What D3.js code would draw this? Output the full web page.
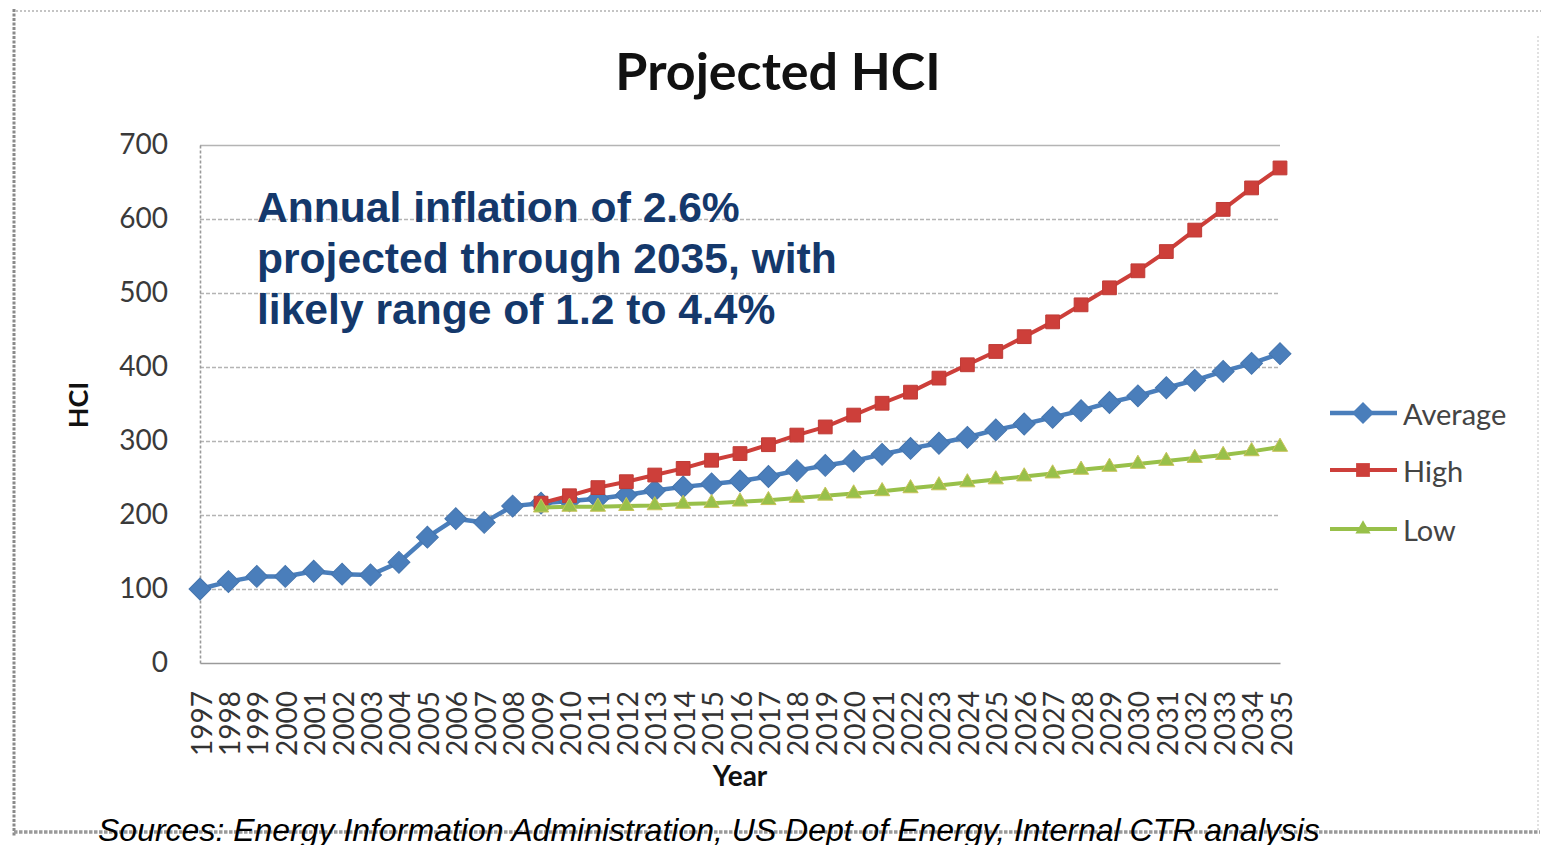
<!doctype html>
<html>
<head>
<meta charset="utf-8">
<script src="https://cdn.jsdelivr.net/npm/d3@7/dist/d3.min.js"></script>
<style>
  html, body { margin: 0; padding: 0; background: #fff; }
  svg { display: block; }
  .calib { font-family: Lato, 'Open Sans', sans-serif; }
</style>
</head>
<body>
<svg id="chart" width="1541" height="845"></svg>
<script>
// data
var years = ["1997","1998","1999","2000","2001","2002","2003","2004","2005","2006",
  "2007","2008","2009","2010","2011","2012","2013","2014","2015","2016","2017",
  "2018","2019","2020","2021","2022","2023","2024","2025","2026","2027","2028",
  "2029","2030","2031","2032","2033","2034","2035"];

var averageValues = [100,110,117,117,124,120,119,136,170,195,190,212,216,
  219,222,227,233,238,242,246,252,260,267,273,282,290,297,305,315,323,332,
  341,352,361,372,382,394,405,418];

// projections start in 2009
var projYears = years.slice(12);
var highValues = [216,226,237,245,254,263,274,283,295,308,319,335,351,366,
  385,403,421,441,461,484,507,530,556,585,613,642,669];
var lowValues = [210,211,211,212,213,215,216,218,220,223,226,229,232,236,
  240,244,248,252,256,261,265,269,273,277,281,286,292];

var yTicks = [0,100,200,300,400,500,600,700];
var seriesNames = ["Average","High","Low"];
var noteLines = ["Annual inflation of 2.6%", "projected through 2035, with", "likely range of 1.2 to 4.4%"];

var svg = d3.select("#chart");

// helpers
var plotLeft = 200, plotRight = 1280, plotTop = 145, plotBottom = 663;
var x = d3.scalePoint().domain(years).range([plotLeft, plotRight]);
var y = d3.scaleLinear().domain([0, 700]).range([plotBottom, plotTop]);

var colors = {Average: "#4a7ebb", High: "#cd3f3a", Low: "#98c04a"};

// outer frame
var frame = svg.append("g");
frame.append("line").attr("x1", 16).attr("y1", 11).attr("x2", 1541).attr("y2", 11)
  .style("stroke", "#c4c4c4").style("stroke-width", 2).style("stroke-dasharray", "2,2");
frame.append("line").attr("x1", 1538).attr("y1", 36).attr("x2", 1538).attr("y2", 832)
  .style("stroke", "#d8d8d8").style("stroke-width", 1.5).style("stroke-dasharray", "2,2");
frame.append("line").attr("x1", 14).attr("y1", 9).attr("x2", 14).attr("y2", 836)
  .style("stroke", "#8a8a8a").style("stroke-width", 3).style("stroke-dasharray", "3,1.5");
frame.append("line").attr("x1", 14).attr("y1", 832).attr("x2", 1540).attr("y2", 832)
  .style("stroke", "#9a9a9a").style("stroke-width", 3.5).style("stroke-dasharray", "3.5,1.5");

// title
svg.append("text").classed("calib", true)
  .attr("x", 778).attr("y", 90)
  .attr("text-anchor", "middle")
  .style("font-size", "52px").style("font-weight", "bold").style("fill", "#111")
  .text("Projected HCI");

// gridlines
var grid = svg.append("g").attr("transform", "translate(" + [plotLeft, 0] + ")")
  .call(d3.axisLeft(y).tickValues(yTicks.slice(1)).tickSize(-(plotRight - plotLeft)).tickFormat(""));
grid.select(".domain").remove();
grid.selectAll(".tick line")
  .style("stroke", "#b4b4b4").style("stroke-width", 1.6)
  .style("stroke-dasharray", function(d) { return d === 700 ? null : "4,2"; });

// y axis
var yAxis = svg.append("g").attr("transform", "translate(" + [plotLeft, 0] + ")")
  .call(d3.axisLeft(y).tickValues(yTicks).tickSize(0).tickPadding(32));
yAxis.select(".domain").style("stroke", "#9a9a9a").style("stroke-width", 1.6).style("stroke-dasharray", "3,2");
yAxis.selectAll(".tick text").classed("calib", true)
  .style("font-size", "28px").style("fill", "#3a3a3a");

// x axis
var xAxis = svg.append("g").attr("transform", "translate(" + [0, plotBottom] + ")")
  .call(d3.axisBottom(x).tickSize(0).tickPadding(0));
xAxis.select(".domain").style("stroke", "#9a9a9a").style("stroke-width", 1.6);
xAxis.selectAll(".tick text").classed("calib", true)
  .style("font-size", "28px").style("fill", "#333")
  .attr("text-anchor", "end")
  .attr("dy", null)
  .attr("dominant-baseline", "central")
  .attr("transform", "translate(0,28) rotate(-90)");

// axis titles
svg.append("text").classed("calib", true)
  .attr("transform", "translate(" + [88, 405] + ") rotate(-90)")
  .attr("text-anchor", "middle")
  .style("font-size", "27px").style("font-weight", "bold").style("fill", "#111")
  .text("HCI");
svg.append("text").classed("calib", true)
  .attr("x", 740).attr("y", 786)
  .attr("text-anchor", "middle")
  .style("font-size", "28px").style("font-weight", "bold").style("fill", "#111")
  .text("Year");

// series
var avgData = years.map(function(d, i) { return {year: d, v: averageValues[i]}; });
var highData = projYears.map(function(d, i) { return {year: d, v: highValues[i]}; });
var lowData = projYears.map(function(d, i) { return {year: d, v: lowValues[i]}; });

var line = d3.line().x(function(d) { return x(d.year); }).y(function(d) { return y(d.v); });

var symbols = {
  Average: {type: d3.symbolSquare, size: 240, rot: 45},
  High: {type: d3.symbolSquare, size: 190, rot: 0},
  Low: {type: d3.symbolTriangle, size: 100, rot: 0}
};
var widths = {Average: 4.5, High: 4, Low: 4};

function drawSeries(name, data) {
  var g = svg.append("g");
  g.append("path").datum(data)
    .attr("d", line)
    .style("fill", "none")
    .style("stroke", colors[name])
    .style("stroke-width", widths[name])
    .style("stroke-linejoin", "round");
  var s = symbols[name];
  g.selectAll("path.mark").data(data).enter().append("path").classed("mark", true)
    .attr("d", d3.symbol().type(s.type).size(s.size))
    .attr("transform", function(d) {
      return "translate(" + [x(d.year), y(d.v)] + ") rotate(" + s.rot + ")";
    })
    .style("fill", colors[name])
    .style("stroke", name === "Low" ? "#c9c35a" : d3.color(colors[name]).darker(0.2))
    .style("stroke-width", 1);
}

drawSeries("Average", avgData);
drawSeries("High", highData);
drawSeries("Low", lowData);

// legend
var legend = svg.append("g").attr("transform", "translate(" + [1330, 413] + ")");
var legItem = legend.selectAll("g").data(seriesNames).enter().append("g")
  .attr("transform", function(d, i) { return "translate(" + [0, [0, 57, 116][i]] + ")"; });
legItem.append("line")
  .attr("x1", 0).attr("x2", 67)
  .style("stroke", function(d) { return colors[d]; })
  .style("stroke-width", function(d) { return widths[d]; });
legItem.append("path")
  .attr("d", function(d) { return d3.symbol().type(symbols[d].type).size(symbols[d].size)(); })
  .attr("transform", function(d) { return "translate(33,0) rotate(" + symbols[d].rot + ")"; })
  .style("fill", function(d) { return colors[d]; });
legItem.append("text").classed("calib", true)
  .attr("x", 73).attr("dominant-baseline", "central")
  .style("font-size", "29px").style("fill", "#444")
  .text(function(d) { return d; });

// note
svg.append("g").selectAll("text").data(noteLines).enter().append("text")
  .attr("x", 257)
  .attr("y", function(d, i) { return 222 + i * 51; })
  .style("font-family", "'Liberation Sans', Arial, sans-serif")
  .style("font-size", "42.6px").style("font-weight", "bold").style("fill", "#14386b")
  .text(function(d) { return d; });

// sources
svg.append("text")
  .attr("x", 98).attr("y", 841)
  .style("font-family", "'Liberation Sans', Arial, sans-serif")
  .style("font-size", "32px").style("font-style", "italic").style("fill", "#000")
  .text("Sources: Energy Information Administration, US Dept of Energy, Internal CTR analysis");
</script>
</body>
</html>
